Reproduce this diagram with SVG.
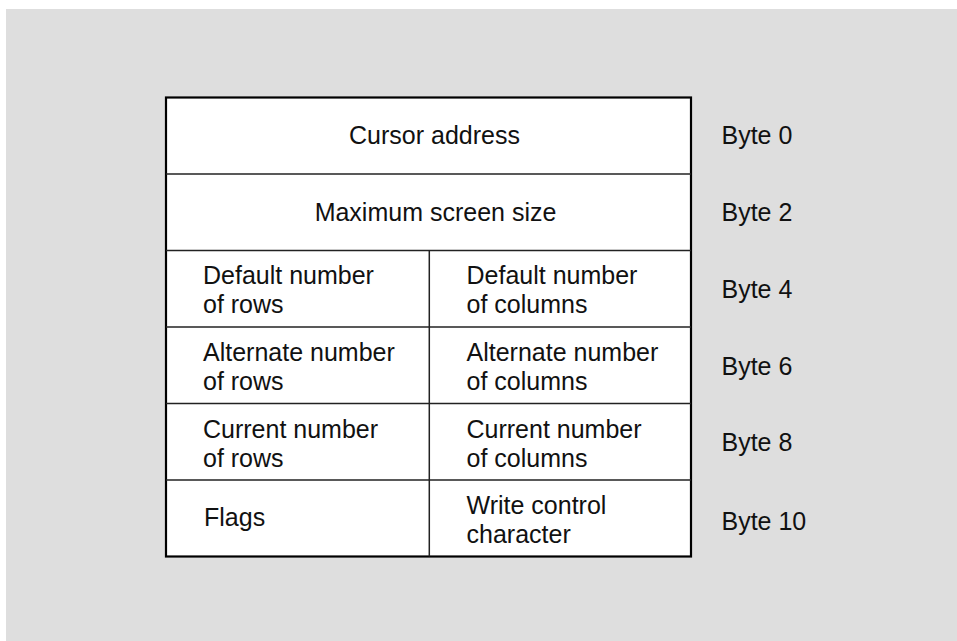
<svg xmlns="http://www.w3.org/2000/svg" width="957" height="641" viewBox="0 0 957 641">
<style>
text{font-family:"Liberation Sans",Arial,sans-serif;font-size:25px;fill:#111}
.c{text-anchor:middle}
.grid{stroke:#222;stroke-width:1.5;fill:none}
</style>
<rect x="0" y="0" width="957" height="641" fill="#ffffff"/>
<rect x="6" y="9" width="951" height="632" fill="#dedede"/>
<g id="table">
<rect x="166" y="97.5" width="525" height="459" fill="#ffffff" stroke="#000" stroke-width="2.2"/>
</g>
<g id="connectors">
<line class="grid" x1="166" y1="174" x2="691" y2="174"/>
<line class="grid" x1="166" y1="250.5" x2="691" y2="250.5"/>
<line class="grid" x1="166" y1="327" x2="691" y2="327"/>
<line class="grid" x1="166" y1="403.5" x2="691" y2="403.5"/>
<line class="grid" x1="166" y1="480" x2="691" y2="480"/>
<line class="grid" x1="429.3" y1="250.5" x2="429.3" y2="556.5"/>
</g>
<g id="cursor"><text class="c" x="434.5" y="143.5">Cursor address</text></g>
<g id="maxsize"><text class="c" x="435.5" y="221">Maximum screen size</text></g>
<g id="defrows"><text x="203" y="284">Default number</text><text x="203" y="313">of rows</text></g>
<g id="defcols"><text x="466.5" y="284">Default number</text><text x="466.5" y="313">of columns</text></g>
<g id="altrows"><text x="203" y="361">Alternate number</text><text x="203" y="390">of rows</text></g>
<g id="altcols"><text x="466.5" y="361">Alternate number</text><text x="466.5" y="390">of columns</text></g>
<g id="currows"><text x="203" y="438">Current number</text><text x="203" y="467">of rows</text></g>
<g id="curcols"><text x="466.5" y="438">Current number</text><text x="466.5" y="467">of columns</text></g>
<g id="flags"><text x="204" y="526">Flags</text></g>
<g id="wcc"><text x="466.5" y="514">Write control</text><text x="466.5" y="543">character</text></g>
<g id="bytes">
<text x="721.5" y="144">Byte 0</text>
<text x="721.5" y="221">Byte 2</text>
<text x="721.5" y="298">Byte 4</text>
<text x="721.5" y="375">Byte 6</text>
<text x="721.5" y="451">Byte 8</text>
<text x="721.5" y="530">Byte 10</text>
</g>
</svg>
